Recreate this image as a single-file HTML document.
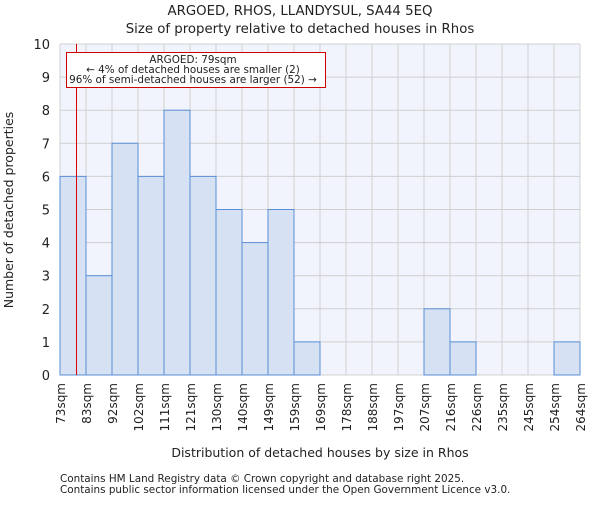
<!DOCTYPE html>
<html><head><meta charset="utf-8"><style>
body{margin:0;background:#fff;}
text{font-family:"DejaVu Sans","Liberation Sans",sans-serif;fill:#222;}
</style></head><body>
<svg id="chart" width="600" height="500">
<text x="300" y="15" font-size="13.3" text-anchor="middle">ARGOED, RHOS, LLANDYSUL, SA44 5EQ</text>
<text x="300" y="33" font-size="13.3" text-anchor="middle">Size of property relative to detached houses in Rhos</text>
<rect x="60" y="44" width="520" height="331" fill="#f1f4fc"/>
<g id="grid"></g><g id="bars"></g><g id="axes"></g>
<text x="320" y="457" font-size="12.5" text-anchor="middle">Distribution of detached houses by size in Rhos</text>
<text transform="translate(13,210) rotate(-90)" font-size="12.5" text-anchor="middle">Number of detached properties</text>
<text x="60" y="482" font-size="10.4">Contains HM Land Registry data © Crown copyright and database right 2025.</text>
<text x="60" y="493" font-size="10.4">Contains public sector information licensed under the Open Government Licence v3.0.</text>
</svg>
<script>
const categories=["73sqm","83sqm","92sqm","102sqm","111sqm","121sqm","130sqm","140sqm","149sqm","159sqm","169sqm","178sqm","188sqm","197sqm","207sqm","216sqm","226sqm","235sqm","245sqm","254sqm","264sqm"];
const counts=[6,3,7,6,8,6,5,4,5,1,0,0,0,0,2,1,0,0,0,1];
const yTicks=[0,1,2,3,4,5,6,7,8,9,10];
const markerBinPos=0.6;
const ns="http://www.w3.org/2000/svg";
const X0=60,X1=580,Y0=375,Y1=44,YMAX=10;
const bw=(X1-X0)/counts.length;
const xs=i=>X0+i*bw;
const ys=v=>Y0-(v/YMAX)*(Y0-Y1);
function mk(tag,attrs,parent){const e=document.createElementNS(ns,tag);for(const k in attrs)e.setAttribute(k,attrs[k]);parent.appendChild(e);return e;}
const grid=document.getElementById('grid'),bars=document.getElementById('bars'),axes=document.getElementById('axes');
yTicks.forEach(t=>{
 const l=mk('line',{x1:X0,x2:X1,y1:ys(t),y2:ys(t),stroke:'#d0d0d0','stroke-width':1},grid);
 
 
 const tx=mk('text',{x:X0-10,y:ys(t)+5,'font-size':13,'text-anchor':'end'},axes);
 tx.textContent=t;
 
 
});
categories.forEach((c,i)=>{
 const l=mk('line',{x1:xs(i),x2:xs(i),y1:Y1,y2:Y0,stroke:'#d0d0d0','stroke-width':1},grid);
 
 
 const tx=mk('text',{transform:`translate(${xs(i)+5},${Y0+8}) rotate(-90)`,'font-size':12,'text-anchor':'end'},axes);
 tx.textContent=c;
 
 
});
counts.forEach((v,i)=>{
 if(v<=0)return;
 const r=mk('rect',{x:xs(i),y:ys(v),width:bw,height:Y0-ys(v),fill:'#d6e1f3',stroke:'#5b8fd6','stroke-width':1},bars);
 
 
});
const mx=Math.round(X0+markerBinPos*bw)+0.5;
const ml=mk('line',{x1:mx,x2:mx,y1:Y1,y2:Y0,stroke:'#dd0000','stroke-width':1},axes);


const box=mk('g',{},axes);


mk('rect',{x:66.5,y:52.5,width:259,height:35,fill:'#fff',stroke:'#cc0000','stroke-width':1},box);
[["ARGOED: 79sqm",63],["← 4% of detached houses are smaller (2)",73],["96% of semi-detached houses are larger (52) →",83]].forEach(([s,y])=>{
 const t=mk('text',{x:193,y:y,'font-size':10.4,'text-anchor':'middle'},box);t.textContent=s;
});
</script>
</body></html>
